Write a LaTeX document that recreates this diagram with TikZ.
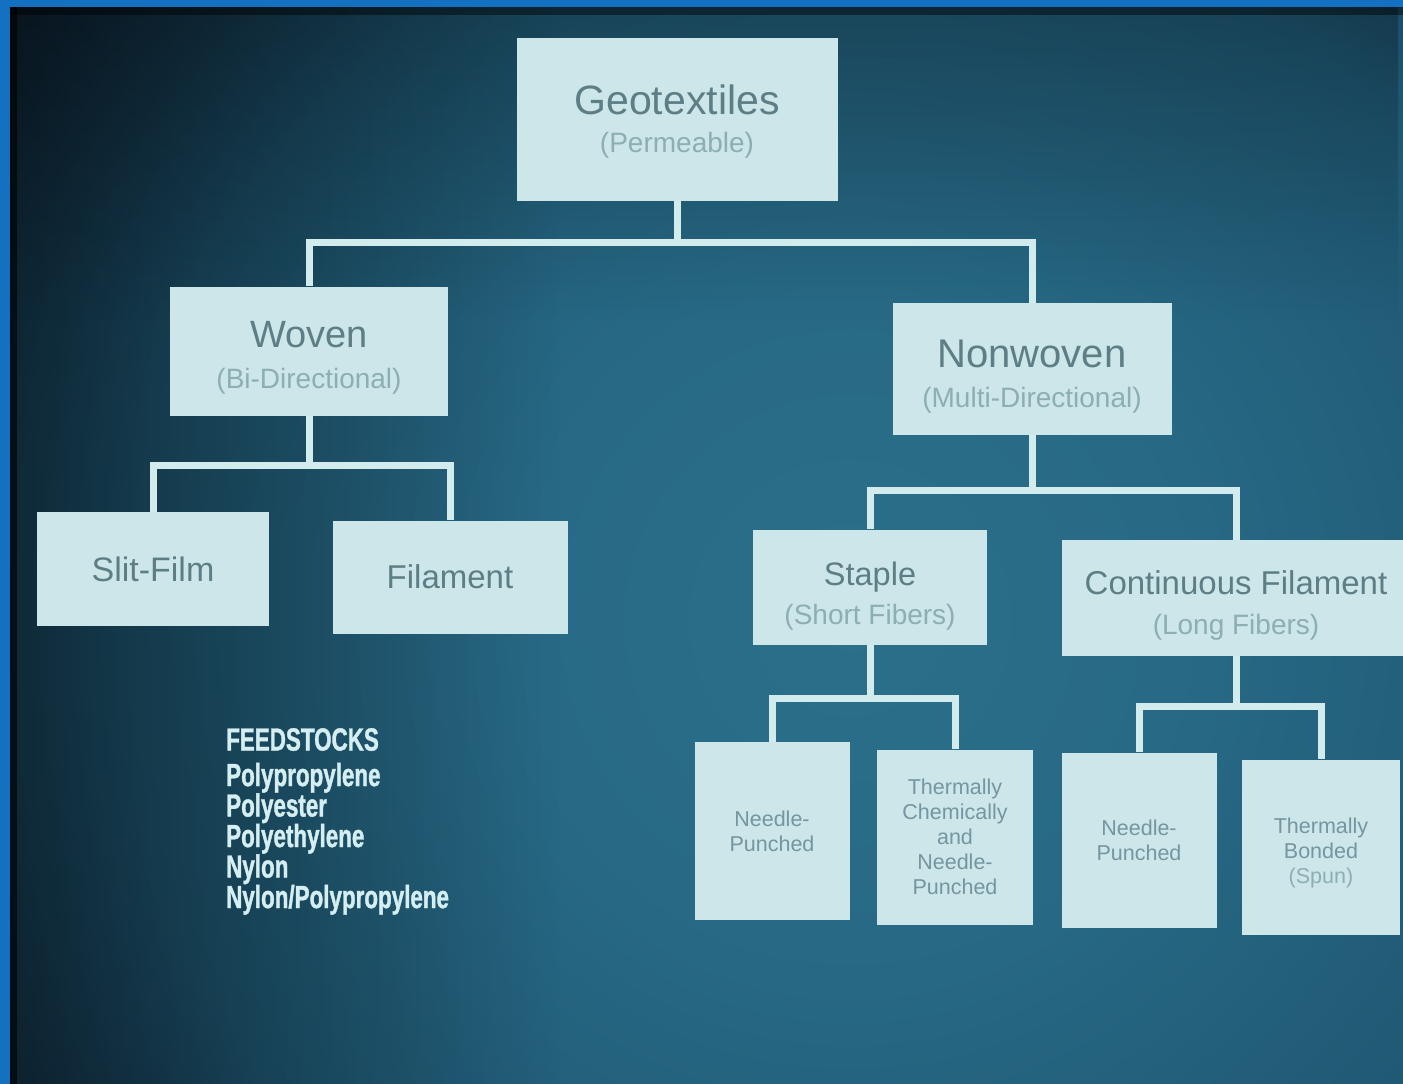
\documentclass[tikz,border=0pt]{standalone}
\usepackage{fontspec}
\usetikzlibrary{fadings}
\setmainfont{Liberation Sans}
\newfontfamily\feedfont[FakeStretch=0.7,FakeBold=1.2]{Liberation Sans}
\definecolor{frameblue}{HTML}{1470C0}
\definecolor{vA}{HTML}{2B6F8B}
\definecolor{vB}{HTML}{286A86}
\definecolor{vC}{HTML}{1F5873}
\definecolor{vD}{HTML}{173B54}
\definecolor{vE}{HTML}{10263A}
\definecolor{boxfill}{HTML}{CCE6EA}
\definecolor{linec}{HTML}{D2EBED}
\definecolor{titlec}{HTML}{5E7E86}
\definecolor{subc}{HTML}{8DAEB3}
\definecolor{smallc}{HTML}{7596A0}
\definecolor{feedc}{HTML}{D4EEF1}
\pgfdeclareradialshading{vign}{\pgfpoint{0bp}{0bp}}{color(0bp)=(vA); color(7bp)=(vB); color(16bp)=(vC); color(21bp)=(vD); color(25bp)=(vE); color(50bp)=(vE)}
\tikzset{
  box/.style={fill=boxfill, draw=none, inner sep=0pt, align=center, text=titlec},
  conn/.style={draw=linec, line width=7pt},
  smallbox/.style={box, text=smallc, font=\fontsize{21.5}{25}\selectfont},
}
\newcommand{\tsub}[1]{{\color{subc}#1}}
\newcommand{\topstrut}[1]{\rule{0pt}{#1pt}}
\begin{document}
\begin{tikzpicture}[x=1pt,y=-1pt]
\useasboundingbox (0,0) rectangle (1403,1084);
% background
\fill[frameblue] (0,0) rectangle (1403,1084);
\begin{scope}
  \clip (10,7) rectangle (1403,1084);
  \fill[vE] (10,7) rectangle (1403,1084);
  \shade[shading=vign] (850,620) circle [radius=1150pt];
  \fill[black, opacity=0.45, path fading=east] (10,7) rectangle (560,1084);
  \fill[black, opacity=0.25, path fading=south] (10,7) rectangle (1403,320);
\end{scope}
\fill[black, opacity=0.6] (10,7) rectangle (17,1084);
\fill[black, opacity=0.45] (10,7) rectangle (1403,15);

% boxes
\node[box, minimum width=321pt, minimum height=163pt, font=\fontsize{28}{38}\selectfont] (geo) at (677,119)
  {\topstrut{34}{\fontsize{41}{38}\selectfont Geotextiles}\\\tsub{(Permeable)}};
\node[box, minimum width=278pt, minimum height=129pt, font=\fontsize{28}{41}\selectfont] (woven) at (309,351)
  {\topstrut{39}{\fontsize{38}{41}\selectfont Woven}\\\tsub{(Bi-Directional)}};
\node[box, minimum width=279pt, minimum height=132pt, font=\fontsize{28}{40}\selectfont] (nonwoven) at (1032,369)
  {\topstrut{42}{\fontsize{40}{40}\selectfont Nonwoven}\\\tsub{(Multi-Directional)}};
\node[box, minimum width=232pt, minimum height=114pt, font=\fontsize{34}{40}\selectfont] (slit) at (153,569) {Slit-Film};
\node[box, minimum width=235pt, minimum height=113pt, font=\fontsize{33}{40}\selectfont] (fil) at (450,577) {Filament};
\node[box, minimum width=234pt, minimum height=115pt, font=\fontsize{28}{39}\selectfont] (staple) at (870,587)
  {\topstrut{41}{\fontsize{32.5}{39}\selectfont Staple}\\\tsub{(Short Fibers)}};
\node[box, minimum width=348pt, minimum height=116pt, font=\fontsize{28}{40}\selectfont] (cont) at (1236,598)
  {\topstrut{39}{\fontsize{33}{40}\selectfont Continuous Filament}\\\tsub{(Long Fibers)}};

\node[smallbox, minimum width=155pt, minimum height=178pt] (np1) at (772,831) {Needle-\\Punched};
\node[smallbox, minimum width=156pt, minimum height=175pt] (tcnp) at (955,837) {Thermally\\Chemically\\and\\Needle-\\Punched};
\node[smallbox, minimum width=155pt, minimum height=175pt] (np2) at (1139,840) {Needle-\\Punched};
\node[smallbox, minimum width=158pt, minimum height=175pt] (tb) at (1321,847) {\topstrut{28}Thermally\\Bonded\\\tsub{(Spun)}};

% connector levels
\coordinate (b1) at (0,242);
\coordinate (b2) at (0,465);
\coordinate (b3) at (0,490);
\coordinate (b4) at (0,698);
\coordinate (b5) at (0,706);

\draw[conn] (geo.south) -- (geo.south |- b1) -| (woven.north);
\draw[conn] (geo.south) -- (geo.south |- b1) -| (nonwoven.north);
\draw[conn] (woven.south) -- (woven.south |- b2) -| (slit.north);
\draw[conn] (woven.south) -- (woven.south |- b2) -| (fil.north);
\draw[conn] (nonwoven.south) -- (nonwoven.south |- b3) -| (staple.north);
\draw[conn] (nonwoven.south) -- (nonwoven.south |- b3) -| (cont.north);
\draw[conn] (staple.south) -- (staple.south |- b4) -| (np1.north);
\draw[conn] (staple.south) -- (staple.south |- b4) -| (tcnp.north);
\draw[conn] (cont.south) -- (cont.south |- b5) -| (np2.north);
\draw[conn] (cont.south) -- (cont.south |- b5) -| (tb.north);

% feedstocks
\node[anchor=north west, align=left, text=feedc, inner sep=0pt,
      font=\feedfont\bfseries\fontsize{32}{30.5}\selectfont] (feed) at (226,728)
  {FEEDSTOCKS\\[5pt]Polypropylene\\Polyester\\Polyethylene\\Nylon\\Nylon/Polypropylene};
\end{tikzpicture}
\end{document}
